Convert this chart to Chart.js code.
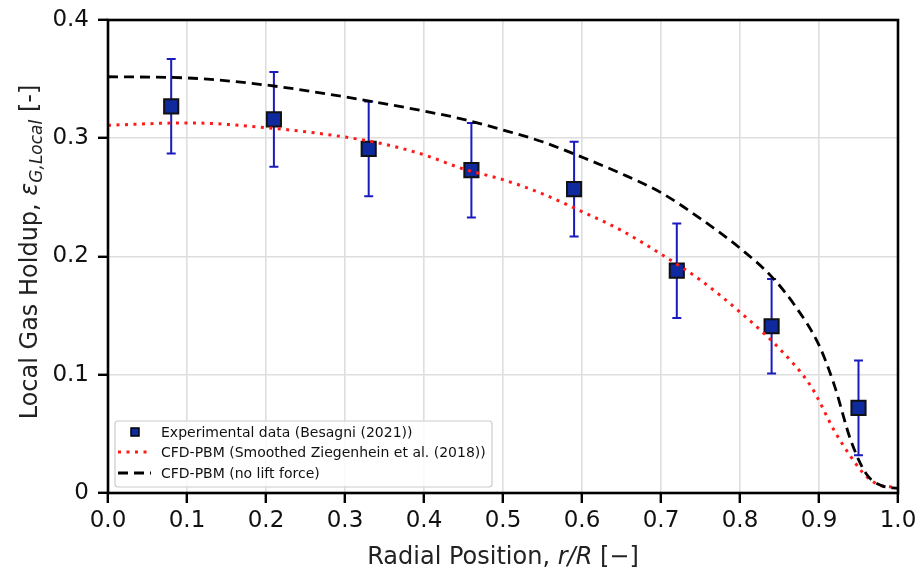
<!DOCTYPE html>
<html>
<head>
<meta charset="utf-8">
<title>Local Gas Holdup</title>
<script src="https://cdn.jsdelivr.net/npm/chart.js@4.4.1/dist/chart.umd.min.js"></script>
<style>
  html, body { margin: 0; padding: 0; background: #fff; }
  #wrap { width: 916px; height: 568px; position: relative; }
</style>
</head>
<body>
<div id="wrap"><canvas id="holdup" width="916" height="568"></canvas></div>
<script>
// experimental points (Besagni 2021)
const expR = [0.08, 0.21, 0.33, 0.46, 0.59, 0.72, 0.84, 0.95];
const expHoldup = [0.327, 0.316, 0.291, 0.273, 0.257, 0.188, 0.141, 0.072];
const expErr = [0.040, 0.040, 0.040, 0.040, 0.040, 0.040, 0.040, 0.040];

// CFD-PBM, smoothed Ziegenhein et al. lift
const smoothR = [0, 0.1, 0.2, 0.3, 0.35, 0.4, 0.45, 0.5, 0.55, 0.6, 0.65, 0.7, 0.75, 0.8, 0.85, 0.89, 0.92, 0.94, 0.96, 0.98, 1.0];
const smoothHoldup = [0.311, 0.313, 0.309, 0.301, 0.295, 0.286, 0.274, 0.265, 0.253, 0.238, 0.222, 0.202, 0.180, 0.153, 0.122, 0.090, 0.052, 0.031, 0.014, 0.006, 0.005];

// CFD-PBM without lift force
const noLiftR = [0, 0.1, 0.2, 0.3, 0.4, 0.45, 0.5, 0.55, 0.6, 0.65, 0.7, 0.75, 0.8, 0.84, 0.87, 0.9, 0.92, 0.94, 0.96, 0.98, 1.0];
const noLiftHoldup = [0.352, 0.351, 0.345, 0.335, 0.323, 0.316, 0.307, 0.297, 0.284, 0.270, 0.254, 0.232, 0.207, 0.183, 0.158, 0.125, 0.090, 0.045, 0.016, 0.006, 0.004];

const xTicks = [0, 0.1, 0.2, 0.3, 0.4, 0.5, 0.6, 0.7, 0.8, 0.9, 1.0];
const yTicks = [0, 0.1, 0.2, 0.3, 0.4];

const legendLabels = [
  "Experimental data (Besagni (2021))",
  "CFD-PBM (Smoothed Ziegenhein et al. (2018))",
  "CFD-PBM (no lift force)"
];

const FONT = "'DejaVu Sans', sans-serif";
const errColor = "#1a1abf";
const markerFill = "#0f2a9e";

function pairs(xs, ys) {
  return xs.map((x, i) => ({ x: x, y: ys[i] }));
}

// error bars, frame, legend and axis titles
const extras = {
  id: "extras",
  beforeDatasetsDraw(chart) {
    const ctx = chart.ctx;
    const xs = chart.scales.x, ys = chart.scales.y;
    ctx.save();
    ctx.strokeStyle = errColor;
    ctx.lineWidth = 2;
    expR.forEach((r, i) => {
      const px = xs.getPixelForValue(r);
      const top = ys.getPixelForValue(expHoldup[i] + expErr[i]);
      const bot = ys.getPixelForValue(expHoldup[i] - expErr[i]);
      ctx.beginPath();
      ctx.moveTo(px, top); ctx.lineTo(px, bot);
      ctx.moveTo(px - 4.5, top); ctx.lineTo(px + 4.5, top);
      ctx.moveTo(px - 4.5, bot); ctx.lineTo(px + 4.5, bot);
      ctx.stroke();
    });
    ctx.restore();
  },
  afterDraw(chart) {
    const ctx = chart.ctx;
    const a = chart.chartArea;
    ctx.save();

    // frame
    ctx.strokeStyle = "#000";
    ctx.lineWidth = 2.6;
    ctx.strokeRect(a.left, a.top, a.right - a.left, a.bottom - a.top);

    // legend
    const lx = a.left + 7, ly = a.bottom - 72, lw = 377, lh = 66;
    ctx.fillStyle = "rgba(255,255,255,0.85)";
    ctx.strokeStyle = "#cccccc";
    ctx.lineWidth = 1.2;
    ctx.beginPath();
    ctx.roundRect(lx, ly, lw, lh, 3);
    ctx.fill();
    ctx.stroke();

    ctx.font = "14px " + FONT;
    ctx.textBaseline = "middle";
    const rows = [ly + 11, ly + 31, ly + 52];
    const ds = chart.data.datasets;
    rows.forEach((ry, i) => {
      const d = ds.find(s => s.legendIndex === i);
      if (d.showLine === false) {
        ctx.fillStyle = markerFill;
        ctx.strokeStyle = "#000";
        ctx.lineWidth = 1.5;
        ctx.fillRect(lx + 16, ry - 4, 8, 8);
        ctx.strokeRect(lx + 16, ry - 4, 8, 8);
      } else {
        ctx.strokeStyle = d.borderColor;
        ctx.lineWidth = d.borderWidth;
        ctx.setLineDash(d.borderDash);
        ctx.beginPath();
        ctx.moveTo(lx + 3, ry); ctx.lineTo(lx + 36, ry);
        ctx.stroke();
        ctx.setLineDash([]);
      }
      ctx.fillStyle = "#111";
      ctx.fillText(legendLabels[i], lx + 46, ry + 1);
    });

    // x axis title: Radial Position, r/R [−]
    const xParts = [
      { t: "Radial Position, ", f: "24px " + FONT },
      { t: "r/R", f: "italic 24px " + FONT },
      { t: " [\u2212]", f: "24px " + FONT }
    ];
    let total = 0;
    xParts.forEach(p => { ctx.font = p.f; total += ctx.measureText(p.t).width; });
    let cx = (a.left + a.right) / 2 - total / 2;
    ctx.fillStyle = "#222";
    ctx.textBaseline = "alphabetic";
    xParts.forEach(p => { ctx.font = p.f; ctx.fillText(p.t, cx, 564); cx += ctx.measureText(p.t).width; });

    // y axis title: Local Gas Holdup, ε_{G,Local} [-]
    const yParts = [
      { t: "Local Gas Holdup, ", f: "24px " + FONT, dy: 0 },
      { t: "\u03b5", f: "italic 24px " + FONT, dy: 0 },
      { t: "G,Local", f: "italic 17px " + FONT, dy: 5 },
      { t: " [-]", f: "24px " + FONT, dy: 0 }
    ];
    total = 0;
    yParts.forEach(p => { ctx.font = p.f; total += ctx.measureText(p.t).width; });
    ctx.translate(37, 252);
    ctx.rotate(-Math.PI / 2);
    cx = -total / 2;
    yParts.forEach(p => { ctx.font = p.f; ctx.fillText(p.t, cx, p.dy); cx += ctx.measureText(p.t).width; });

    ctx.restore();
  }
};

new Chart(document.getElementById("holdup").getContext("2d"), {
  type: "line",
  data: {
    datasets: [
      {
        label: legendLabels[1],
        legendIndex: 1,
        data: pairs(smoothR, smoothHoldup),
        borderColor: "#ff1a1a",
        borderWidth: 3,
        borderDash: [3, 5.5],
        pointRadius: 0,
        cubicInterpolationMode: "monotone",
        fill: false,
        order: 2
      },
      {
        label: legendLabels[2],
        legendIndex: 2,
        data: pairs(noLiftR, noLiftHoldup),
        borderColor: "#000",
        borderWidth: 2.8,
        borderDash: [10, 6],
        pointRadius: 0,
        cubicInterpolationMode: "monotone",
        fill: false,
        order: 1
      },
      {
        label: legendLabels[0],
        legendIndex: 0,
        data: pairs(expR, expHoldup),
        showLine: false,
        pointStyle: "rect",
        pointRadius: 10,
        pointHoverRadius: 10,
        pointBackgroundColor: markerFill,
        pointBorderColor: "#111",
        pointBorderWidth: 2,
        backgroundColor: markerFill,
        borderColor: "#111",
        order: 3
      }
    ]
  },
  options: {
    responsive: false,
    animation: false,
    devicePixelRatio: 1,
    layout: { padding: { top: 20, right: 18, left: 0, bottom: 0 } },
    plugins: {
      legend: { display: false },
      tooltip: { enabled: false }
    },
    scales: {
      x: {
        type: "linear",
        min: 0,
        max: 1,
        afterBuildTicks: s => { s.ticks = xTicks.map(v => ({ value: v })); },
        afterFit: s => { s.height = 75; s.paddingLeft = 0; s.paddingRight = 0; },
        ticks: {
          font: { family: FONT, size: 23 },
          color: "#111",
          padding: 4,
          maxRotation: 0,
          callback: v => v.toFixed(1)
        },
        grid: { color: "#dedede", lineWidth: 1.6, tickColor: "#000", tickLength: 10, tickWidth: 2.4 },
        border: { display: false }
      },
      y: {
        type: "linear",
        min: 0,
        max: 0.4,
        afterBuildTicks: s => { s.ticks = yTicks.map(v => ({ value: v })); },
        afterFit: s => { s.width = 108; s.paddingTop = 0; s.paddingBottom = 0; },
        ticks: {
          font: { family: FONT, size: 23 },
          color: "#111",
          padding: 9,
          callback: v => (v === 0 ? "0" : v.toFixed(1))
        },
        grid: { color: "#dedede", lineWidth: 1.6, tickColor: "#000", tickLength: 10, tickWidth: 2.4 },
        border: { display: false }
      }
    }
  },
  plugins: [extras]
});
</script>
</body>
</html>
